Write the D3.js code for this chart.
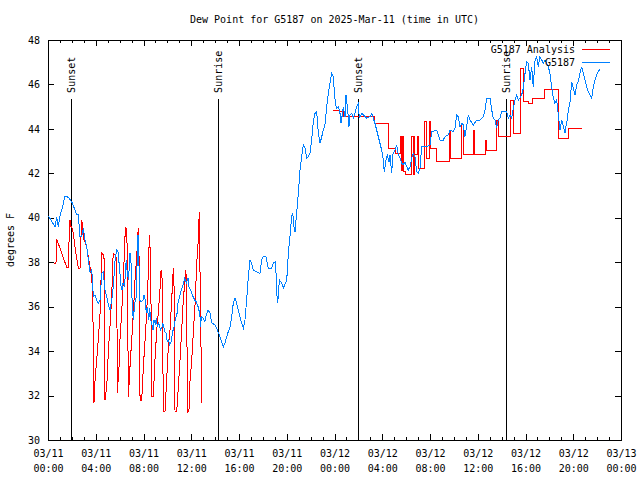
<!DOCTYPE html>
<html><head><meta charset="utf-8">
<script src="https://cdn.jsdelivr.net/npm/d3@7"></script>
<style>
html,body{margin:0;padding:0;background:#fff;}
svg{display:block;}
text{font-family:"DejaVu Sans Mono",monospace;font-size:10px;fill:#000;}
</style></head><body>
<svg id="chart" width="640" height="480"></svg>
<script>
const chartTitle = "Dew Point for G5187 on 2025-Mar-11 (time in UTC)";
const yAxisLabel = "degrees F";
const seriesNames = ["G5187 Analysis", "G5187"];
const seriesColors = ["#ff0000", "#0080ff"];
const yTicks = [30, 32, 34, 36, 38, 40, 42, 44, 46, 48];
const startTime = Date.UTC(2025, 2, 11, 0, 0);
const endTime = Date.UTC(2025, 2, 13, 0, 0);
const sunLineTop = 45.35;
// hours after 03/11 00:00 UTC
const sunEvents = [
  {label: "Sunset", hour: 1.93},
  {label: "Sunrise", hour: 14.32},
  {label: "Sunset", hour: 26.05},
  {label: "Sunrise", hour: 38.37}
];
// observed dew point: [hour, degF]
const observed = [[0.03,40.08],[0.59,39.60],[0.73,40.05],[0.86,39.60],[1.01,40.08],[1.26,40.58],[1.42,40.98],[1.70,40.92],[1.99,40.72],[2.26,40.35],[2.40,40.13],[2.54,40.13],[2.68,39.15],[2.82,39.15],[2.96,39.53],[3.10,39.00],[3.24,38.70],[3.38,38.10],[3.52,37.57],[3.66,37.65],[3.74,37.12],[3.79,36.45],[3.94,36.53],[4.08,36.30],[4.21,36.15],[4.36,36.30],[4.50,37.50],[4.63,37.57],[4.77,36.75],[4.92,36.45],[5.05,36.08],[5.19,35.85],[5.34,36.30],[5.47,36.90],[5.61,38.02],[5.75,38.55],[5.86,38.47],[6.01,37.65],[6.09,36.98],[6.20,36.75],[6.28,37.05],[6.43,36.90],[6.48,37.65],[6.56,38.10],[6.64,37.50],[6.76,37.20],[6.84,38.40],[6.93,38.40],[6.98,37.50],[7.06,36.00],[7.15,35.40],[7.26,36.15],[7.40,36.45],[7.48,38.40],[7.54,39.23],[7.62,37.95],[7.68,36.30],[7.82,36.22],[7.96,36.30],[8.04,36.53],[8.15,36.30],[8.23,35.70],[8.32,36.00],[8.44,35.40],[8.52,35.93],[8.60,35.40],[8.71,35.18],[8.80,34.95],[8.88,35.40],[8.99,35.25],[9.07,35.48],[9.16,35.10],[9.27,35.25],[9.44,34.95],[9.55,35.10],[9.63,35.25],[9.78,34.87],[9.91,34.80],[9.99,34.42],[10.11,34.50],[10.19,34.28],[10.33,34.42],[10.41,34.80],[10.56,35.10],[10.66,35.40],[10.81,35.70],[10.89,36.15],[11.03,36.45],[11.17,36.75],[11.31,36.98],[11.45,37.28],[11.59,37.05],[11.73,37.28],[11.81,36.90],[11.92,36.75],[12.00,36.67],[12.15,36.45],[12.29,36.30],[12.42,36.22],[12.57,36.00],[12.71,35.70],[12.79,35.10],[12.84,35.55],[12.98,35.48],[13.13,35.32],[13.26,35.63],[13.40,35.85],[13.57,35.72],[13.71,35.27],[13.99,35.18],[14.13,35.04],[14.27,34.82],[14.41,34.65],[14.55,34.42],[14.69,34.20],[14.83,34.37],[14.97,34.65],[15.10,34.87],[15.25,35.10],[15.39,35.55],[15.52,36.15],[15.67,36.38],[15.81,36.15],[15.94,35.85],[16.08,35.55],[16.23,35.25],[16.36,35.03],[16.50,35.40],[16.64,36.30],[16.78,37.35],[16.92,38.10],[17.06,37.95],[17.20,37.65],[17.48,37.57],[17.76,37.50],[17.90,38.10],[18.04,38.25],[18.26,38.25],[18.45,37.73],[18.74,37.73],[18.87,37.95],[19.02,38.02],[19.10,37.50],[19.16,36.60],[19.24,36.15],[19.38,37.20],[19.58,37.05],[19.71,36.83],[19.94,37.12],[20.05,37.50],[20.13,38.40],[20.27,39.15],[20.41,40.05],[20.50,40.20],[20.61,39.60],[20.69,39.37],[20.83,40.20],[20.97,41.10],[21.11,42.15],[21.25,42.75],[21.39,43.28],[21.53,43.13],[21.67,42.68],[21.81,42.75],[21.95,42.90],[22.09,43.50],[22.22,44.32],[22.37,44.70],[22.51,44.77],[22.64,43.87],[22.79,43.35],[22.93,43.65],[23.06,43.95],[23.20,44.18],[23.35,45.00],[23.48,45.60],[23.62,46.05],[23.76,46.50],[23.90,46.35],[23.98,45.75],[24.07,45.15],[24.18,44.93],[24.32,45.00],[24.46,44.70],[24.54,44.25],[24.65,44.63],[24.74,45.00],[24.88,44.55],[24.96,45.53],[25.11,44.85],[25.21,44.10],[25.30,44.63],[25.44,44.70],[25.58,44.48],[25.72,44.70],[25.86,45.00],[25.99,45.15],[26.08,44.48],[26.14,44.55],[26.28,44.70],[26.41,44.63],[26.70,44.48],[26.97,44.55],[27.12,44.70],[27.25,44.48],[27.39,44.25],[27.53,43.95],[27.67,43.65],[27.81,43.35],[27.95,43.05],[28.09,42.60],[28.17,42.07],[28.31,42.60],[28.42,42.83],[28.57,42.52],[28.65,42.83],[28.79,42.00],[28.88,42.83],[29.07,43.05],[29.21,43.28],[29.35,42.83],[29.49,42.68],[29.63,42.45],[29.76,42.38],[29.91,42.52],[30.05,42.30],[30.18,42.15],[30.33,42.30],[30.47,42.68],[30.60,42.90],[30.74,42.75],[30.89,42.07],[31.02,42.00],[31.16,42.23],[31.30,43.20],[31.72,43.20],[32.00,43.28],[32.14,43.87],[32.56,43.95],[32.70,43.73],[32.84,43.50],[33.11,43.50],[33.26,43.65],[33.53,43.73],[33.68,43.95],[33.95,43.87],[34.09,44.03],[34.24,44.63],[34.37,44.55],[34.51,44.10],[34.66,44.25],[34.79,44.18],[34.93,43.65],[35.07,44.10],[35.21,44.63],[35.35,44.40],[35.63,44.18],[35.91,44.40],[36.19,44.40],[36.47,44.55],[36.61,44.85],[36.75,45.38],[37.03,45.38],[37.17,44.85],[37.30,44.48],[37.44,44.40],[37.58,44.03],[37.72,44.40],[37.86,44.48],[38.00,44.77],[38.42,44.77],[38.56,44.48],[38.70,44.63],[38.84,44.48],[38.98,44.93],[39.12,45.30],[39.26,45.53],[39.40,45.30],[39.54,45.38],[39.68,45.53],[39.82,45.83],[39.96,46.50],[40.10,47.02],[40.23,46.95],[40.38,46.20],[40.52,46.80],[40.65,45.90],[40.80,47.10],[40.94,47.25],[41.07,46.80],[41.21,47.25],[41.36,47.10],[41.49,46.95],[41.63,47.10],[41.91,46.80],[42.05,46.50],[42.19,45.90],[42.33,45.38],[42.47,45.15],[42.61,45.30],[42.75,44.63],[42.89,43.95],[43.03,44.40],[43.17,44.10],[43.31,43.80],[43.39,44.10],[43.50,44.40],[43.59,44.85],[43.73,45.22],[43.87,46.12],[44.01,45.83],[44.15,45.53],[44.29,45.98],[44.42,46.12],[44.56,46.50],[44.71,46.80],[44.84,46.50],[44.98,46.20],[45.12,45.90],[45.26,45.67],[45.40,45.53],[45.55,45.38],[45.68,45.90],[45.82,46.20],[45.96,46.43],[46.10,46.58],[46.24,46.68]];
// analysis, first day (straight segments): [hour, degF]
const analysisEarly = [[0.50,37.92],[0.67,37.98],[0.73,39.00],[0.78,38.97],[1.57,37.77],[1.73,37.77],[1.76,38.87],[1.78,39.77],[1.84,39.90],[1.90,39.60],[1.99,39.60],[2.12,39.30],[2.26,38.70],[2.40,38.18],[2.54,37.73],[2.68,37.73],[2.74,38.87],[2.82,39.90],[2.91,39.60],[2.96,39.08],[3.10,38.92],[3.24,38.70],[3.38,38.25],[3.52,37.80],[3.66,37.35],[3.74,36.45],[3.79,34.65],[3.85,31.65],[3.94,32.70],[4.08,33.60],[4.21,34.50],[4.36,35.72],[4.44,37.20],[4.50,38.42],[4.63,38.33],[4.72,38.10],[4.77,31.80],[4.92,32.40],[5.05,33.92],[5.19,35.10],[5.34,36.45],[5.42,37.95],[5.47,38.40],[5.61,38.33],[5.75,38.19],[5.81,32.12],[5.95,33.30],[6.03,34.50],[6.17,35.72],[6.31,37.20],[6.45,39.15],[6.53,39.60],[6.64,38.70],[6.73,31.95],[6.87,33.30],[7.01,34.50],[7.15,35.72],[7.29,37.20],[7.43,38.25],[7.56,39.53],[7.65,37.80],[7.71,31.80],[7.85,31.80],[7.99,33.30],[8.13,34.50],[8.27,35.72],[8.40,37.50],[8.49,39.23],[8.60,38.10],[8.69,31.95],[8.82,31.95],[8.96,33.60],[9.11,34.95],[9.24,35.72],[9.38,36.75],[9.47,37.65],[9.57,37.20],[9.66,31.27],[9.80,31.27],[9.94,32.70],[10.08,34.20],[10.22,34.95],[10.36,36.30],[10.50,37.73],[10.58,36.60],[10.64,31.27],[10.78,31.27],[10.92,32.40],[11.06,33.60],[11.20,34.95],[11.33,36.30],[11.48,37.20],[11.53,37.65],[11.62,37.20],[11.67,31.20],[11.81,31.35],[11.90,32.70],[12.04,33.60],[12.17,34.80],[12.31,36.00],[12.46,37.95],[12.59,39.00],[12.67,40.27],[12.73,37.73],[12.88,31.65]];
// analysis, second day (stepwise levels): [hour, degF]
const analysisLate = [[23.90,44.85],[24.40,44.77],[24.74,44.58],[27.39,44.25],[28.54,43.13],[29.09,42.90],[29.55,43.65],[29.63,42.15],[29.71,43.65],[29.80,42.07],[29.93,41.93],[30.47,43.65],[30.58,41.93],[30.66,43.65],[30.74,42.83],[30.94,43.65],[31.05,42.23],[31.58,44.32],[31.67,42.68],[31.94,44.32],[32.03,43.13],[32.56,42.52],[33.62,43.95],[33.74,42.68],[34.66,44.18],[34.77,42.83],[35.63,43.95],[35.74,42.83],[36.63,43.50],[36.75,43.05],[37.59,44.40],[37.70,43.65],[38.76,45.30],[38.98,43.80],[39.62,46.73],[39.82,45.22],[40.23,45.15],[40.57,45.38],[41.58,45.78],[42.75,43.58],[43.64,44.03],[44.71,44.03]];

const L = 48, R = 621, T = 40, B = 440;
const svg = d3.select("#chart");
const toDate = h => new Date(startTime + h * 3600000);
const x = d3.scaleUtc().domain([new Date(startTime), new Date(endTime)]).range([L, R]);
const y = d3.scaleLinear().domain([yTicks[0], yTicks[yTicks.length - 1]]).range([B, T]);

// title
svg.append("text").attr("x", (L + R) / 2).attr("y", 23).attr("text-anchor", "middle").text(chartTitle);
// y label
svg.append("text").attr("transform", `translate(14,${(T + B) / 2}) rotate(-90)`)
  .attr("text-anchor", "middle").text(yAxisLabel);

const fmtD = d3.utcFormat("%m/%d"), fmtT = d3.utcFormat("%H:%M");
const majorX = d3.utcHour.every(4).range(new Date(startTime), new Date(endTime + 1));
const minorX = d3.utcHour.every(1).range(new Date(startTime), new Date(endTime + 1))
  .filter(d => d.getUTCHours() % 4 !== 0);

function clean(g) { g.select(".domain").remove(); g.selectAll("line").attr("shape-rendering", "crispEdges"); }

// bottom axis
svg.append("g").attr("transform", `translate(0,${B})`)
  .call(d3.axisBottom(x).tickValues(minorX).tickSize(-3).tickFormat(""))
  .call(clean);
svg.append("g").attr("transform", `translate(0,${B})`)
  .call(d3.axisBottom(x).tickValues(majorX).tickSizeInner(-6).tickSizeOuter(0).tickFormat(""))
  .call(clean)
  .call(g => g.selectAll(".tick").each(function(d) {
    const t = d3.select(this).append("text").attr("text-anchor", "middle");
    t.append("tspan").attr("x", 0).attr("y", 17).text(fmtD(d));
    t.append("tspan").attr("x", 0).attr("y", 32).text(fmtT(d));
  }));
// top axis
svg.append("g").attr("transform", `translate(0,${T})`)
  .call(d3.axisTop(x).tickValues(minorX).tickSize(-3).tickFormat(""))
  .call(clean);
svg.append("g").attr("transform", `translate(0,${T})`)
  .call(d3.axisTop(x).tickValues(majorX).tickSize(-6).tickFormat(""))
  .call(clean);
// left axis
svg.append("g").attr("transform", `translate(${L},0)`)
  .call(d3.axisLeft(y).tickValues(yTicks).tickSizeInner(-6).tickSizeOuter(0).tickPadding(8).tickFormat(d3.format("d")))
  .call(clean)
  .call(g => g.selectAll("text").attr("font-size", 11).attr("font-family", "'Liberation Sans', Arial, sans-serif").attr("fill", "#000"));
// right axis
svg.append("g").attr("transform", `translate(${R},0)`)
  .call(d3.axisRight(y).tickValues(yTicks).tickSize(-6).tickFormat(""))
  .call(clean);

// frame
svg.append("rect").attr("x", L).attr("y", T).attr("width", R - L).attr("height", B - T)
  .attr("fill", "none").attr("stroke", "#000").attr("shape-rendering", "crispEdges");

// sunrise / sunset markers
const sun = svg.append("g");
sunEvents.forEach(ev => {
  const xx = x(toDate(ev.hour));
  sun.append("line").attr("x1", xx).attr("x2", xx).attr("y1", y(yTicks[0])).attr("y2", y(sunLineTop))
    .attr("stroke", "#000").attr("shape-rendering", "crispEdges");
  sun.append("text").attr("transform", `translate(${xx},${y(sunLineTop) - 6}) rotate(-90)`)
    .attr("dy", "0.35em").attr("text-anchor", "start").text(ev.label);
});

// series
const lineLin = d3.line().x(d => x(toDate(d[0]))).y(d => y(d[1]));
const lineStep = d3.line().x(d => x(toDate(d[0]))).y(d => y(d[1])).curve(d3.curveStepAfter);
const plot = svg.append("g").attr("fill", "none").attr("stroke-width", 1).attr("shape-rendering", "crispEdges");
plot.append("path").attr("d", lineLin(analysisEarly)).attr("stroke", seriesColors[0]);
plot.append("path").attr("d", lineStep(analysisLate)).attr("stroke", seriesColors[0]);
plot.append("path").attr("d", lineLin(observed)).attr("stroke", seriesColors[1]);

// legend
const leg = svg.append("g");
seriesNames.forEach((name, i) => {
  const ly = 49 + i * 13;
  leg.append("text").attr("x", 575).attr("y", ly).attr("dy", "0.35em").attr("text-anchor", "end").text(name);
  leg.append("line").attr("x1", 582).attr("x2", 610).attr("y1", ly).attr("y2", ly)
    .attr("stroke", seriesColors[i]).attr("shape-rendering", "crispEdges");
});
</script>
</body></html>
